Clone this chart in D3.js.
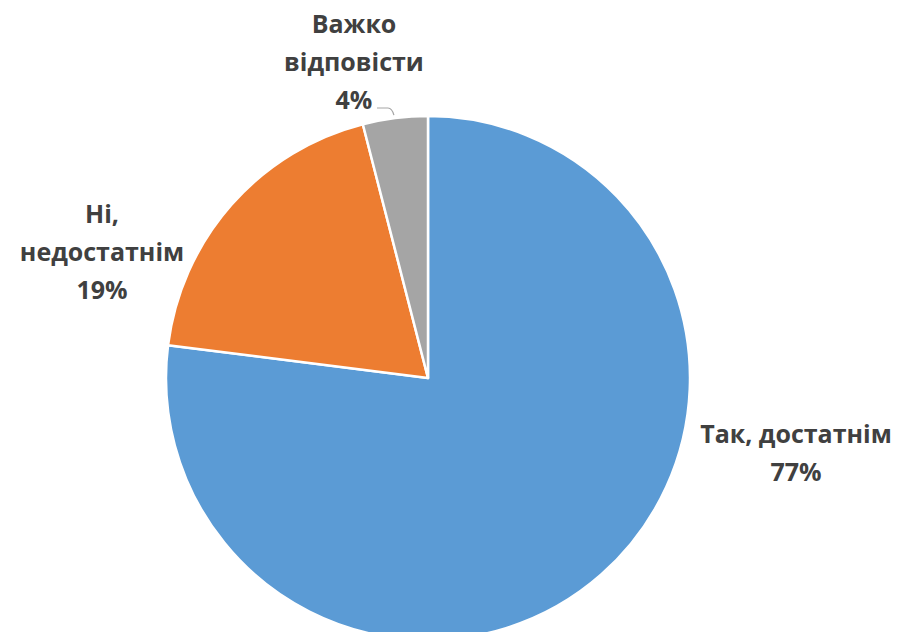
<!DOCTYPE html>
<html><head><meta charset="utf-8">
<script src="https://cdn.jsdelivr.net/npm/d3@7/dist/d3.min.js"></script>
<style>html,body{margin:0;padding:0;background:#fff;}svg{display:block;}</style>
</head><body>
<script>
const categories = ["Так, достатнім", "Ні, недостатнім", "Важко відповісти"];
const values = [77, 19, 4];
const colors = ["#5B9BD5", "#ED7D31", "#A5A5A5"];
const labelLines = [["Так, достатнім"], ["Ні,", "недостатнім"], ["Важко", "відповісти"]];

const W = 902, H = 632;
const cx = 428, cy = 378, R = 262;
// label centre x and first-line baseline y
const labelPos = [[796, 443], [102, 223], [354, 33]];
const lineH = 38;

const svg = d3.select("body").append("svg").attr("width", W).attr("height", H);
const g = svg.append("g").attr("transform", `translate(${cx},${cy})`);

const pie = d3.pie().sort(null).value(d => d)(values);
const arc = d3.arc().innerRadius(0).outerRadius(R);

g.selectAll("path.slice").data(pie).join("path")
  .attr("class", "slice")
  .attr("d", arc)
  .attr("fill", (d, i) => colors[i])
  .attr("stroke", "#fff")
  .attr("stroke-width", 2.5)
  .attr("stroke-linejoin", "round");

const fmt = d3.format(".0f");
labelLines.forEach((lines, i) => {
  const t = svg.append("text")
    .attr("text-anchor", "middle")
    .attr("font-family", "'Open Sans', 'Liberation Sans', sans-serif")
    .attr("font-weight", "bold")
    .attr("font-size", 25)
    .attr("fill", "#404040");
  const all = lines.concat([fmt(values[i]) + "%"]);
  all.forEach((s, k) => {
    t.append("tspan").attr("x", labelPos[i][0]).attr("y", labelPos[i][1] + k * lineH).text(s);
  });
});

// leader line for small slice
const gm = (pie[2].startAngle + pie[2].endAngle) / 2;
const pe = [cx + Math.sin(gm) * (R + 2) - 1, cy - Math.cos(gm) * (R + 2) - 1];
svg.append("path")
  .attr("d", `M377,108 L388,108 Q392,108 ${pe[0]},${pe[1]}`)
  .attr("fill", "none").attr("stroke", "#A5A5A5").attr("stroke-width", 1.2);
</script>
</body></html>
